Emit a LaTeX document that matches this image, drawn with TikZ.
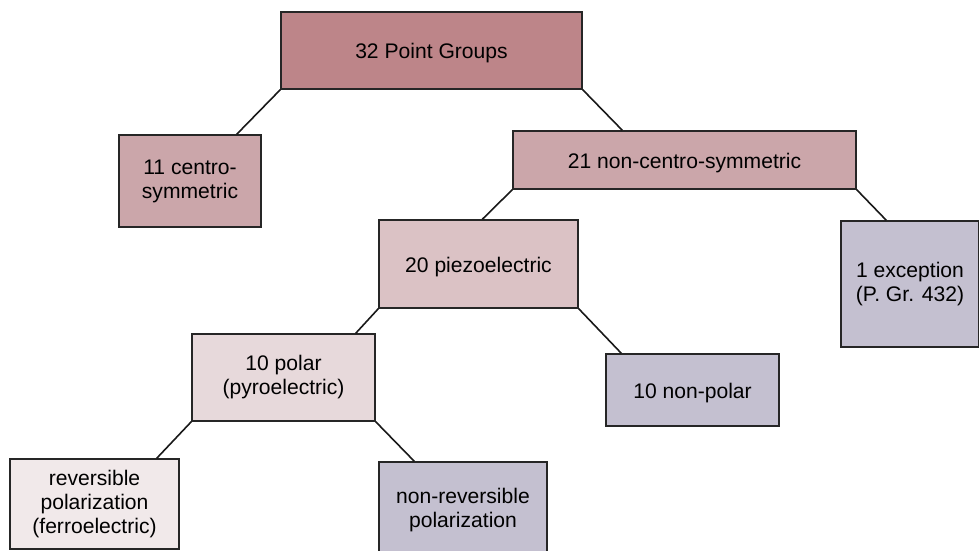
\documentclass[tikz,border=0pt]{standalone}
\usepackage{fontspec}
\setmainfont{Liberation Sans}
\usepackage{tikz}
\usetikzlibrary{positioning}

\definecolor{rosedark}{RGB}{189,133,137}
\definecolor{rosemid}{RGB}{203,166,170}
\definecolor{roselight}{RGB}{219,194,197}
\definecolor{rosepale}{RGB}{231,217,219}
\definecolor{rosewhite}{RGB}{241,233,234}
\definecolor{lilac}{RGB}{196,192,208}

\tikzset{
  grp/.style={draw=black!85,line width=1.4pt,align=center,inner sep=0pt,
    font=\fontsize{21.1}{24}\selectfont,
    execute at begin node={\rule{0pt}{21pt}}},
  link/.style={line width=1.6pt,black!90}
}

\begin{document}
\begin{tikzpicture}[x=1pt,y=-1pt]
\useasboundingbox (0,0) rectangle (979,551);
% boxes
\node[grp,fill=rosedark,minimum width=301,minimum height=77](all) at (431.5,50.5){32 Point Groups};
\node[grp,fill=rosemid,minimum width=142,minimum height=92](centro) at (190,181){11 centro-\\symmetric};
\node[grp,fill=rosemid,minimum width=343,minimum height=58](noncentro) at (684.5,160){21 non-centro-symmetric};
\node[grp,fill=roselight,minimum width=199,minimum height=88](piezo) at (478.5,264){20 piezoelectric};
\node[grp,fill=lilac,minimum width=138,minimum height=126](except) at (910,284){1 exception\\(P. Gr. 432)};
\node[grp,fill=rosepale,minimum width=183,minimum height=87](polar) at (283.5,377.5){10 polar\\(pyroelectric)};
\node[grp,fill=lilac,minimum width=173,minimum height=72](nonpolar) at (692.5,390){10 non-polar};
\node[grp,fill=rosewhite,minimum width=169,minimum height=90](ferro) at (94.5,504){reversible\\polarization\\(ferroelectric)};
\node[grp,fill=lilac,minimum width=168,minimum height=96](nonrev) at (463,510){non-reversible\\polarization};
% connectors
\draw[link](all.south west)--([xshift=-25pt]centro.north east);
\draw[link](all.south east)--([xshift=110pt]noncentro.north west);
\draw[link](noncentro.south west)--([xshift=104pt]piezo.north west);
\draw[link](noncentro.south east)--([xshift=46pt]except.north west);
\draw[link](piezo.south west)--([xshift=-20pt]polar.north east);
\draw[link](piezo.south east)--([xshift=16pt]nonpolar.north west);
\draw[link](polar.south west)--([xshift=-23pt]ferro.north east);
\draw[link](polar.south east)--([xshift=36pt]nonrev.north west);
\end{tikzpicture}
\end{document}
